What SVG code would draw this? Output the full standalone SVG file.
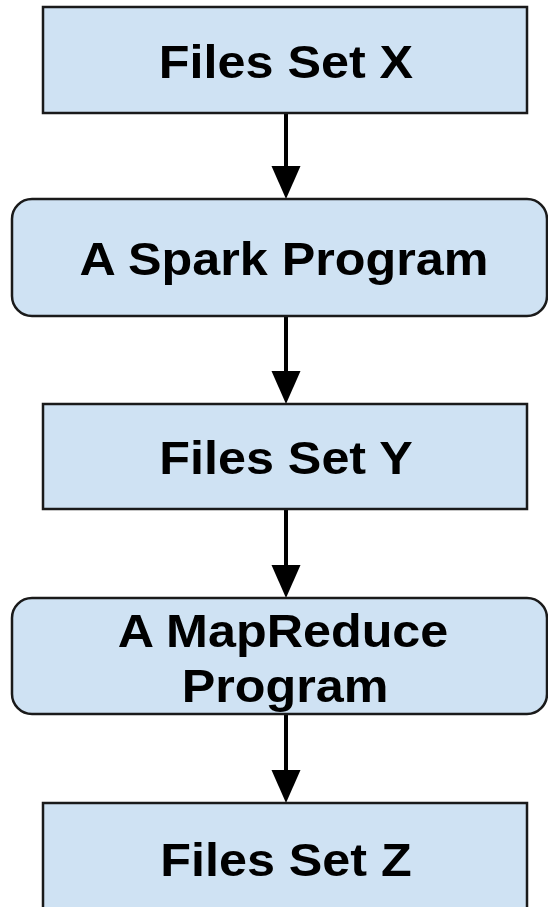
<svg xmlns="http://www.w3.org/2000/svg" width="548" height="907" viewBox="0 0 548 907">
<style>
.box{fill:#cfe2f3;stroke:#1a1a1a;stroke-width:2.5}
.lbl{font-family:"Liberation Sans",Arial,sans-serif;font-weight:bold;font-size:47px;fill:#000;text-anchor:middle}
.edge{stroke:#000;stroke-width:4;fill:none}
.head{fill:#000}
</style>
<rect width="548" height="907" fill="#fff"/>
<g id="connectors">
<line class="edge" x1="286" y1="113" x2="286" y2="167"/>
<path class="head" d="M271.5,166 L300.5,166 L286,199 Z"/>
<line class="edge" x1="286" y1="316" x2="286" y2="372"/>
<path class="head" d="M271.5,371 L300.5,371 L286,404 Z"/>
<line class="edge" x1="286" y1="509" x2="286" y2="566"/>
<path class="head" d="M271.5,565 L300.5,565 L286,598 Z"/>
<line class="edge" x1="286" y1="714" x2="286" y2="771"/>
<path class="head" d="M271.5,770 L300.5,770 L286,803 Z"/>
</g>
<g id="files-x">
<rect class="box" x="43" y="7" width="484" height="106"/>
<text class="lbl" transform="translate(286,78) scale(1.07,1)">Files Set X</text>
</g>
<g id="spark">
<rect class="box" x="12" y="199" width="535" height="117" rx="20" ry="20"/>
<text class="lbl" transform="translate(284,275) scale(1.07,1)">A Spark Program</text>
</g>
<g id="files-y">
<rect class="box" x="43" y="404" width="484" height="105"/>
<text class="lbl" transform="translate(286,474) scale(1.07,1)">Files Set Y</text>
</g>
<g id="mapreduce">
<rect class="box" x="12" y="598" width="535" height="116" rx="20" ry="20"/>
<text class="lbl" transform="translate(283,647) scale(1.07,1)">A MapReduce</text>
<text class="lbl" transform="translate(285,702) scale(1.07,1)">Program</text>
</g>
<g id="files-z">
<rect class="box" x="43" y="803" width="484" height="110"/>
<text class="lbl" transform="translate(286,876) scale(1.07,1)">Files Set Z</text>
</g>
</svg>
